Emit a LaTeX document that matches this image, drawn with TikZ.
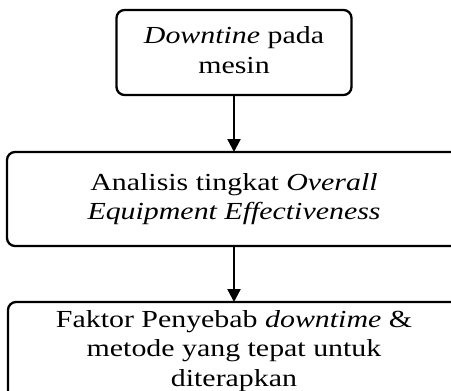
\documentclass[tikz,border=0pt]{standalone}
\usepackage{graphicx}
\usepackage{fontspec}
\setmainfont{Liberation Serif}
\usetikzlibrary{arrows.meta}

% text in the boxes is set a bit wider than it is high
\newcommand{\widetext}[1]{\scalebox{1.22}[1]{\begin{tabular}{@{}c@{}}#1\end{tabular}}}

\begin{document}
\begin{tikzpicture}[x=1pt, y=-1pt,
    box/.style={draw, rounded corners=8pt, line width=2.3pt, inner sep=0pt, outer sep=0pt, font=\fontsize{24.5}{29.5}\selectfont},
    arrow/.style={line width=2.3pt, -{Triangle[width=13pt, length=13pt]}}]
    \useasboundingbox (0,0) rectangle (451,391);
    \clip (0,0) rectangle (451,391);

    \node[box, minimum width=235, minimum height=85](mesin) at (234, 52.5) {\widetext{\textit{Downtine} pada\\mesin}};
    \node[box, minimum width=454, minimum height=94](oee) at (234, 199) {\widetext{Analisis tingkat \textit{Overall}\\\textit{Equipment Effectiveness}}};
    \node[box, minimum width=452, minimum height=98](faktor) at (234, 351) {\widetext{Faktor Penyebab \textit{downtime} \&\\metode yang tepat untuk\\diterapkan}};

    \draw[arrow] (mesin) -- (oee);
    \draw[arrow] (oee) -- (faktor);
\end{tikzpicture}
\end{document}
